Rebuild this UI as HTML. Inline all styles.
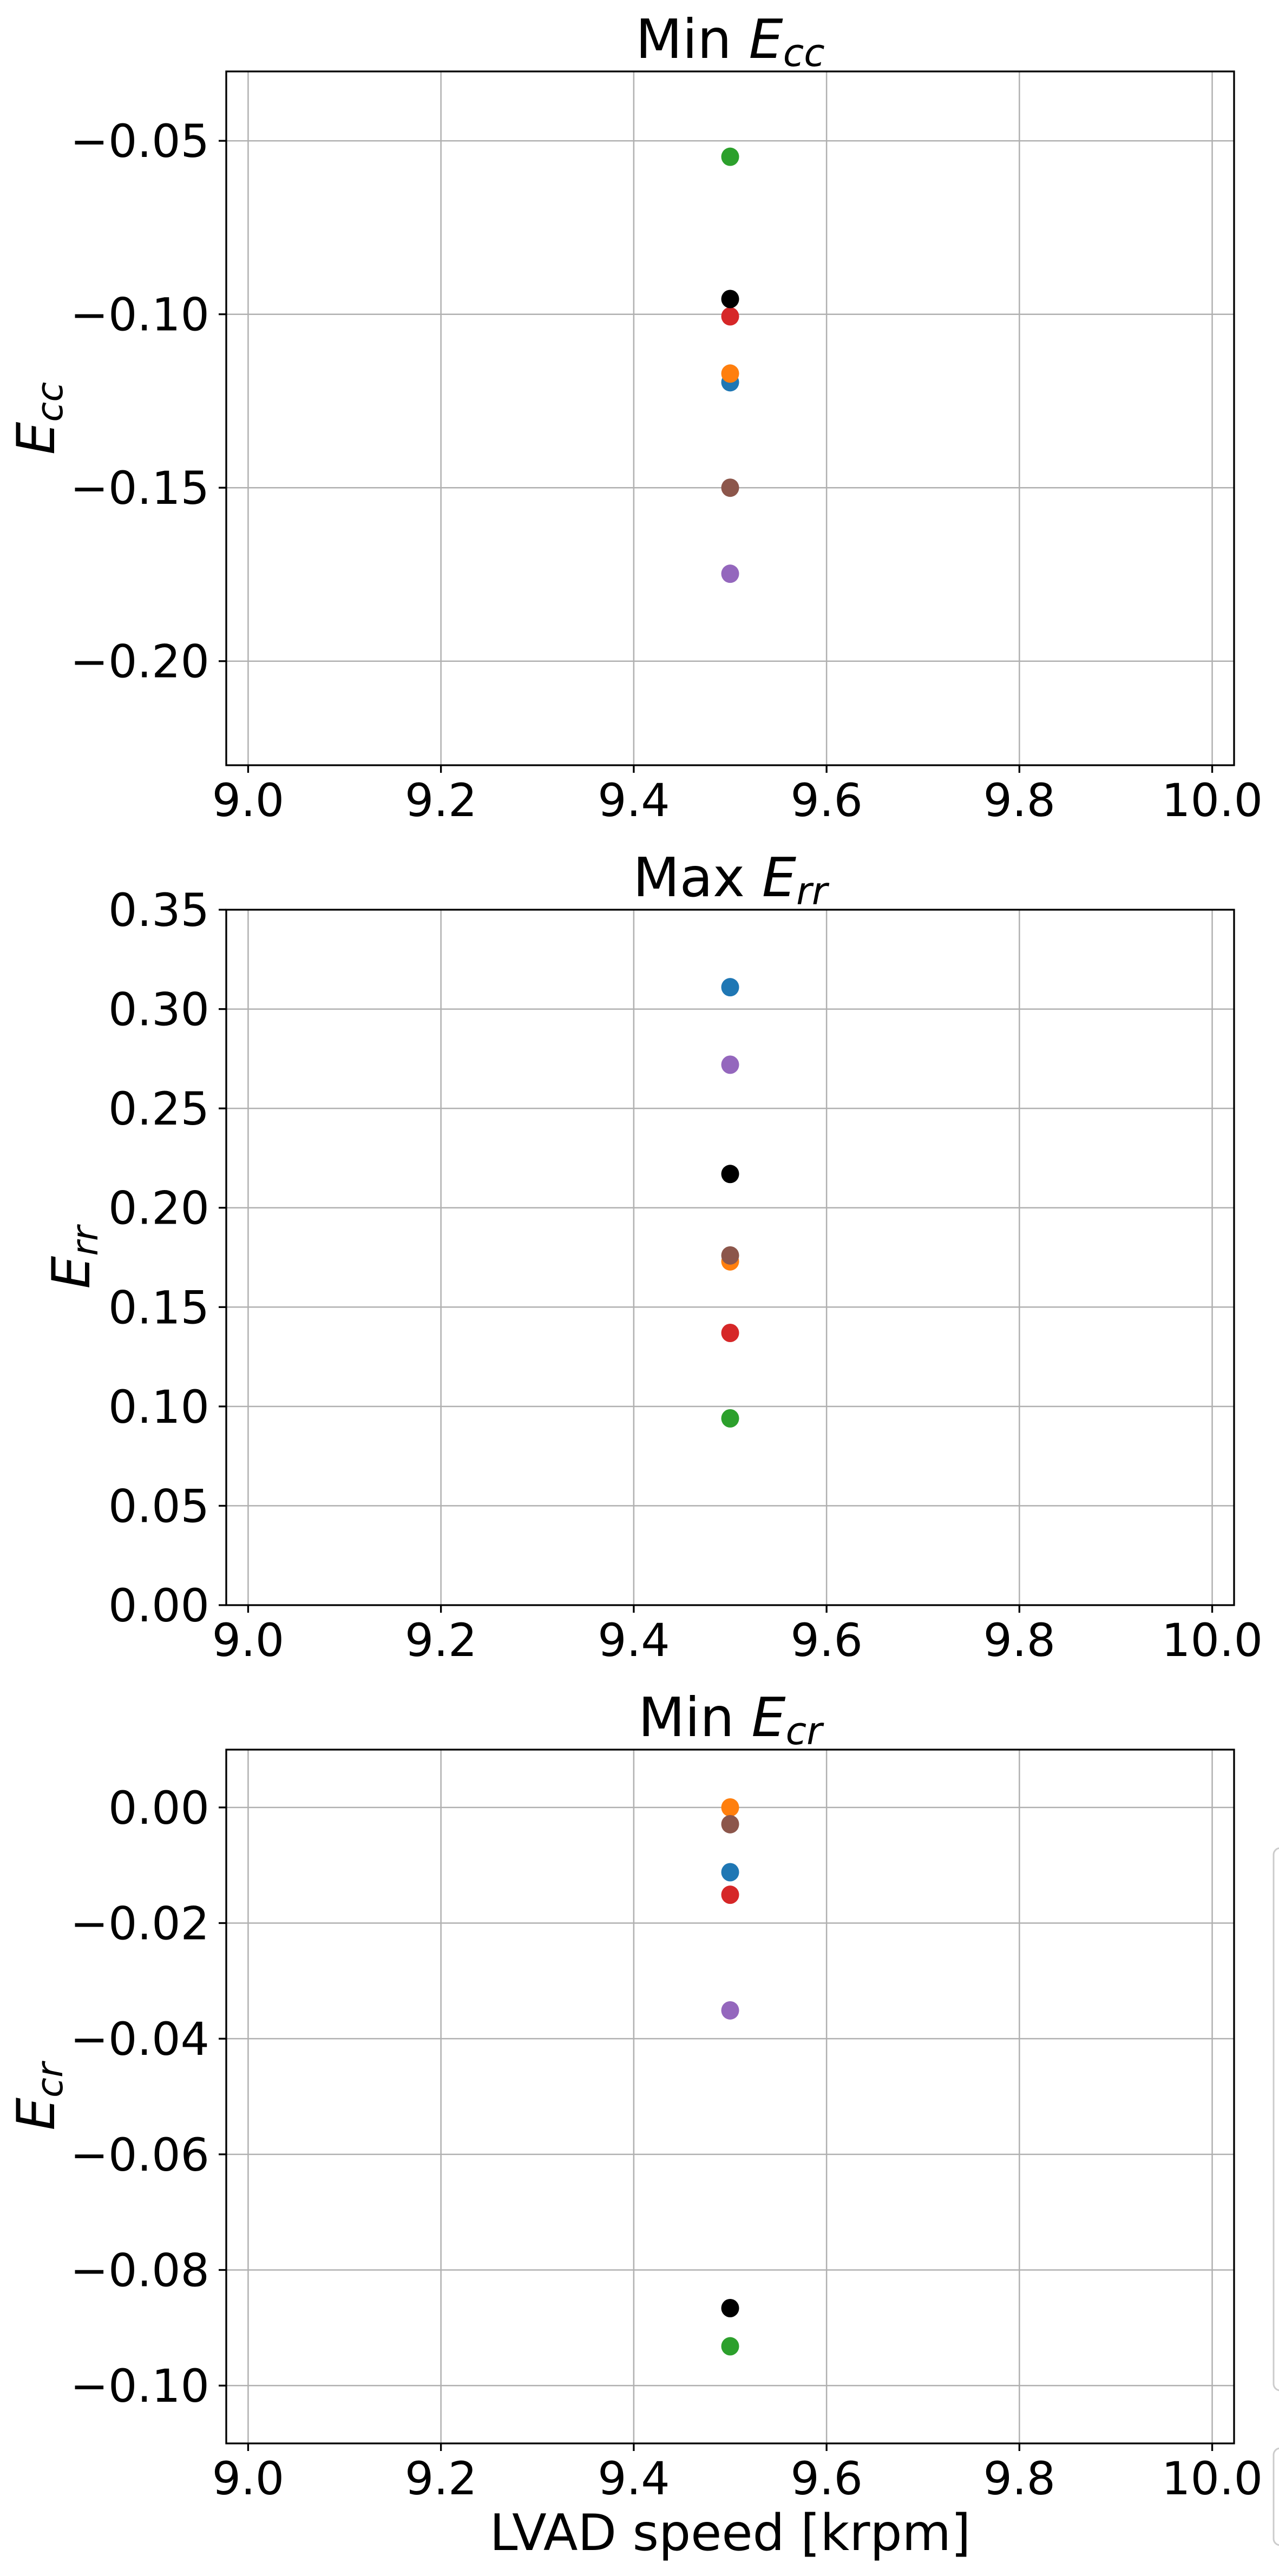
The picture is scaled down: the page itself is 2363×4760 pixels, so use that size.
<!DOCTYPE html>
<html><head><meta charset="utf-8"><style>
html,body{margin:0;padding:0;background:#fff;}
svg{display:block;font-family:"DejaVu Sans","Liberation Sans",sans-serif;}
</style></head><body>
<svg id="fig" width="2363" height="4760" viewBox="0 0 2363 4760" xmlns="http://www.w3.org/2000/svg">
<rect x="0" y="0" width="2363" height="4760" fill="#fff"/>
<rect x="2353" y="3415" width="60" height="1002" rx="12" fill="#fff" stroke="#cccccc" stroke-width="3"/>
<rect x="2353" y="4524" width="60" height="179" rx="12" fill="#fff" stroke="#cccccc" stroke-width="3"/>
</svg>
<script>
const xTicks = [9.0, 9.2, 9.4, 9.6, 9.8, 10.0];
const xTickLabels = ["9.0", "9.2", "9.4", "9.6", "9.8", "10.0"];
const seriesColors = ["#1f77b4", "#ff7f0e", "#2ca02c", "#d62728", "#9467bd", "#8c564b", "#000000"];
const seriesX = [9.5, 9.5, 9.5, 9.5, 9.5, 9.5, 9.5];
const eccValues = [-0.1196, -0.1171, -0.0546, -0.1006, -0.1748, -0.1500, -0.0956];
const errValues = [0.311, 0.173, 0.094, 0.137, 0.272, 0.176, 0.217];
const ecrValues = [-0.0112, 0.0000, -0.0932, -0.0151, -0.0351, -0.0029, -0.0866];
const eccTicks = [-0.05, -0.10, -0.15, -0.20];
const eccTickLabels = ["\u22120.05", "\u22120.10", "\u22120.15", "\u22120.20"];
const errTicks = [0.00, 0.05, 0.10, 0.15, 0.20, 0.25, 0.30, 0.35];
const errTickLabels = ["0.00", "0.05", "0.10", "0.15", "0.20", "0.25", "0.30", "0.35"];
const ecrTicks = [0.00, -0.02, -0.04, -0.06, -0.08, -0.10];
const ecrTickLabels = ["0.00", "\u22120.02", "\u22120.04", "\u22120.06", "\u22120.08", "\u22120.10"];

const NS = "http://www.w3.org/2000/svg";
const svg = document.getElementById("fig");
const L = 418, R = 2280, X0 = 8.9773, X1 = 10.0227;
function xs(v){ return L + (v - X0) / (X1 - X0) * (R - L); }
function mk(tag, attrs, parent){
  const e = document.createElementNS(NS, tag);
  for (const k in attrs) e.setAttribute(k, attrs[k]);
  (parent || svg).appendChild(e);
  return e;
}
function richText(parent, base, sub, prefix){
  if (prefix){ const t0 = document.createElementNS(NS, "tspan"); t0.textContent = prefix; parent.appendChild(t0); }
  const t1 = document.createElementNS(NS, "tspan"); t1.setAttribute("font-style", "italic"); t1.textContent = base; parent.appendChild(t1);
  const t2 = document.createElementNS(NS, "tspan"); t2.setAttribute("font-style", "italic"); t2.setAttribute("font-size", "70%"); t2.setAttribute("dy", "15"); t2.textContent = sub; parent.appendChild(t2);
}
function panel(key, top, bot, y0, y1, ticks, tickLabels, values, titlePrefix, sub, ylabX, showXLabel){
  const g = mk("g", {});
  
  
  const ys = v => bot - (v - y0) / (y1 - y0) * (bot - top);
  // grid
  xTicks.forEach((t, i) => {
    const ln = mk("line", {x1: xs(t), x2: xs(t), y1: top, y2: bot, stroke: "#b0b0b0", "stroke-width": 2.5}, g);
    
    
  });
  ticks.forEach((t, i) => {
    const ln = mk("line", {x1: L, x2: R, y1: ys(t), y2: ys(t), stroke: "#b0b0b0", "stroke-width": 2.5}, g);
    
    
  });
  // points
  values.forEach((v, i) => {
    const c = mk("ellipse", {cx: xs(seriesX[i]), cy: ys(v), rx: 16.5, ry: 17, fill: seriesColors[i]}, g);
    
    
  });
  // frame
  const fr = mk("rect", {x: L, y: top, width: R - L, height: bot - top, fill: "none", stroke: "#000", "stroke-width": 3.3}, g);
  
  
  // x ticks
  xTicks.forEach((t, i) => {
    mk("line", {x1: xs(t), x2: xs(t), y1: bot, y2: bot + 14, stroke: "#000", "stroke-width": 3.3}, g);
    const tx = mk("text", {x: xs(t), y: bot + 94, "font-size": 84, "text-anchor": "middle", fill: "#000"}, g);
    
    
    tx.textContent = xTickLabels[i];
  });
  // y ticks
  ticks.forEach((t, i) => {
    mk("line", {x1: L - 14, x2: L, y1: ys(t), y2: ys(t), stroke: "#000", "stroke-width": 3.3}, g);
    const tx = mk("text", {x: 387, y: ys(t) + 30, "font-size": 84, "text-anchor": "end", fill: "#000"}, g);
    
    
    tx.textContent = tickLabels[i];
  });
  // title
  const ti = mk("text", {x: (L + R) / 2, y: top - 25, "font-size": 100, "text-anchor": "middle", fill: "#000"}, g);
  
  
  richText(ti, "E", sub, titlePrefix + " ");
  // y label
  const cy = (top + bot) / 2;
  const yl = mk("text", {x: ylabX, y: cy, "font-size": 96, "text-anchor": "middle", fill: "#000", transform: "rotate(-90 " + ylabX + " " + cy + ")"}, g);
  
  
  richText(yl, "E", sub, null);
  if (showXLabel){
    const xl = mk("text", {x: (L + R) / 2, y: bot + 197, "font-size": 93, "text-anchor": "middle", fill: "#000"}, g);
    
    
    xl.textContent = "LVAD speed [krpm]";
  }
}
panel("ecc", 132, 1414, -0.23, -0.03, eccTicks, eccTickLabels, eccValues, "Min", "cc", 100, false);
panel("err", 1681, 2966, 0.0, 0.35, errTicks, errTickLabels, errValues, "Max", "rr", 165, false);
panel("ecr", 3233, 4515, -0.11, 0.01, ecrTicks, ecrTickLabels, ecrValues, "Min", "cr", 100, true);
</script>
</body></html>
